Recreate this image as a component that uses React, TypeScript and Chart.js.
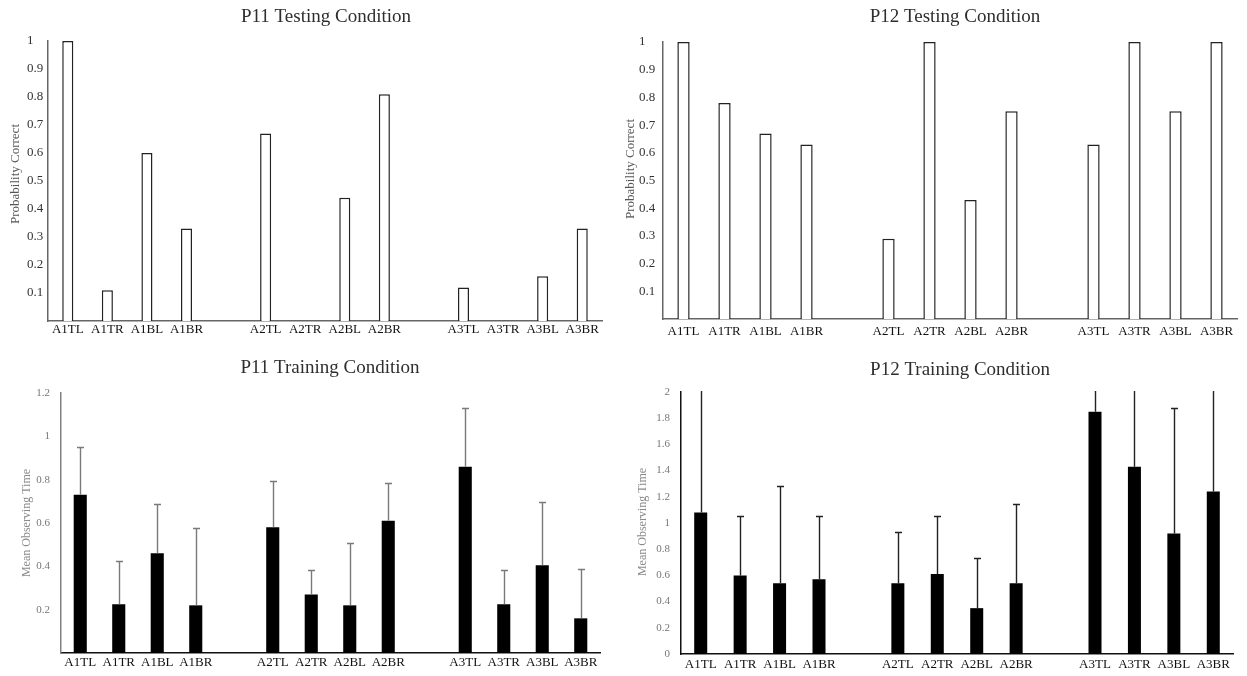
import React, { useEffect, useRef } from 'react';
import { Chart, registerables } from 'chart.js';

Chart.register(...registerables);

// Categories (blank slots separate the three groups)
const categories = ['A1TL', 'A1TR', 'A1BL', 'A1BR', '', 'A2TL', 'A2TR', 'A2BL', 'A2BR', '', 'A3TL', 'A3TR', 'A3BL', 'A3BR'];

// P11 / P12 testing: probability correct
const p11Testing = [1, 0.11, 0.6, 0.33, null, 0.67, 0, 0.44, 0.81, null, 0.12, 0, 0.16, 0.33];
const p12Testing = [1, 0.78, 0.67, 0.63, null, 0.29, 1, 0.43, 0.75, null, 0.63, 1, 0.75, 1];

// P11 / P12 training: mean observing time and upper error
const p11Training = [0.73, 0.225, 0.46, 0.22, null, 0.58, 0.27, 0.22, 0.61, null, 0.86, 0.225, 0.405, 0.16];
const p11TrainingErr = [0.22, 0.2, 0.23, 0.355, null, 0.215, 0.115, 0.29, 0.175, null, 0.27, 0.16, 0.29, 0.23];
const p12Training = [1.08, 0.6, 0.54, 0.57, null, 0.54, 0.61, 0.35, 0.54, null, 1.85, 1.43, 0.92, 1.24];
const p12TrainingErr = [1.2, 0.45, 0.74, 0.485, null, 0.39, 0.44, 0.38, 0.605, null, 0.6, 0.9, 0.955, 1.0];

const titles = ['P11 Testing Condition', 'P12 Testing Condition', 'P11 Training Condition', 'P12 Training Condition'];
const yTitles = ['Probability Correct', 'Probability Correct', 'Mean Observing Time', 'Mean Observing Time'];

const SERIF = '"Liberation Serif", "DejaVu Serif", serif';

type PanelCfg = {
  left: number; top: number; width: number; height: number;
  values: (number | null)[]; errors?: (number | null)[];
  title: string; titleX: number; titleY: number;
  yTitle: string; yTitleX: number; yTitleY: number; yTitleColor: string; yTitleSize: number;
  filled: boolean; barPct: number; max: number; step: number; showZero: boolean;
  pad: { left: number; right: number; top: number; bottom: number };
  yW: number; xH: number; xPad: number;
  yAlign: 'near' | 'far'; yPad: number; yTickColor: string; yTickSize: number;
  yBorder: string; xBorder: string; errColor: string;
};

const panels: PanelCfg[] = [
  {
    left: 0, top: 0, width: 615, height: 345, values: p11Testing,
    title: titles[0], titleX: 326, titleY: 17,
    yTitle: yTitles[0], yTitleX: 16, yTitleY: 174, yTitleColor: '#555', yTitleSize: 13,
    filled: false, barPct: 0.28, max: 1, step: 0.1, showZero: false,
    pad: { left: 27, right: 13, top: 41, bottom: 4 }, yW: 21, xH: 20, xPad: 1,
    yAlign: 'far', yPad: 0, yTickColor: '#333', yTickSize: 13,
    yBorder: '#666', xBorder: '#666', errColor: '#777',
  },
  {
    left: 620, top: 0, width: 627, height: 345, values: p12Testing,
    title: titles[1], titleX: 335, titleY: 17,
    yTitle: yTitles[1], yTitleX: 11, yTitleY: 169, yTitleColor: '#555', yTitleSize: 13,
    filled: false, barPct: 0.3, max: 1, step: 0.1, showZero: false,
    pad: { left: 19, right: 10, top: 42, bottom: 4 }, yW: 24, xH: 22, xPad: 5,
    yAlign: 'far', yPad: 0, yTickColor: '#333', yTickSize: 13,
    yBorder: '#666', xBorder: '#666', errColor: '#777',
  },
  {
    left: 0, top: 345, width: 615, height: 331, values: p11Training, errors: p11TrainingErr,
    title: titles[2], titleX: 330, titleY: 23,
    yTitle: yTitles[2], yTitleX: 27, yTitleY: 178, yTitleColor: '#8a8a8a', yTitleSize: 12,
    filled: true, barPct: 0.34, max: 1.2, step: 0.2, showZero: false,
    pad: { left: 20, right: 15, top: 48, bottom: 4 }, yW: 41, xH: 19, xPad: 2,
    yAlign: 'near', yPad: 11, yTickColor: '#777', yTickSize: 11,
    yBorder: '#808080', xBorder: '#111', errColor: '#7a7a7a',
  },
  {
    left: 620, top: 345, width: 627, height: 331, values: p12Training, errors: p12TrainingErr,
    title: titles[3], titleX: 340, titleY: 25,
    yTitle: yTitles[3], yTitleX: 23, yTitleY: 177, yTitleColor: '#8a8a8a', yTitleSize: 12,
    filled: true, barPct: 0.33, max: 2, step: 0.2, showZero: true,
    pad: { left: 20, right: 14, top: 47, bottom: 4 }, yW: 41, xH: 18, xPad: 3,
    yAlign: 'near', yPad: 11, yTickColor: '#777', yTickSize: 11,
    yBorder: '#111', xBorder: '#111', errColor: '#222',
  },
];

function Panel({ cfg }: { cfg: PanelCfg }) {
  const ref = useRef<HTMLCanvasElement>(null);
  useEffect(() => {
    if (!ref.current) return;
    const textPlugin = {
      id: 'panelText',
      afterDraw(chart: any) {
        const ctx = chart.ctx;
        ctx.save();
        ctx.fillStyle = '#2e2e2e';
        ctx.font = `19px ${SERIF}`;
        ctx.textAlign = 'center';
        ctx.textBaseline = 'middle';
        ctx.fillText(cfg.title, cfg.titleX, cfg.titleY);
        ctx.translate(cfg.yTitleX, cfg.yTitleY);
        ctx.rotate(-Math.PI / 2);
        ctx.font = `${cfg.yTitleSize}px ${SERIF}`;
        ctx.fillStyle = cfg.yTitleColor;
        ctx.fillText(cfg.yTitle, 0, 0);
        ctx.restore();
      },
    };
    const errorPlugin = {
      id: 'errorBars',
      afterDatasetsDraw(chart: any) {
        const errs = cfg.errors;
        if (!errs) return;
        const meta = chart.getDatasetMeta(0);
        const ys = chart.scales.y;
        const { ctx, chartArea } = chart;
        ctx.save();
        ctx.beginPath();
        ctx.rect(chartArea.left, chartArea.top - 1, chartArea.right - chartArea.left, chartArea.bottom - chartArea.top + 1);
        ctx.clip();
        ctx.strokeStyle = cfg.errColor;
        ctx.lineWidth = 1.4;
        errs.forEach((e, i) => {
          const v = cfg.values[i];
          if (e == null || v == null) return;
          const bar = meta.data[i];
          const x = Math.round(bar.x) + 0.5;
          const y0 = ys.getPixelForValue(v);
          const y1 = Math.round(ys.getPixelForValue(v + e)) + 0.5;
          ctx.beginPath();
          ctx.moveTo(x, y0);
          ctx.lineTo(x, y1);
          ctx.moveTo(x - 3.5, y1);
          ctx.lineTo(x + 3.5, y1);
          ctx.stroke();
        });
        ctx.restore();
      },
    };
    const chart = new Chart(ref.current, {
      type: 'bar',
      data: {
        labels: categories,
        datasets: [
          {
            data: cfg.values as any,
            backgroundColor: cfg.filled ? '#000' : '#fff',
            borderColor: cfg.filled ? '#000' : '#222',
            borderWidth: cfg.filled ? 0 : 1.5,
            barPercentage: cfg.barPct,
            categoryPercentage: 1,
          },
        ],
      },
      options: {
        responsive: false,
        animation: false,
        layout: { padding: cfg.pad },
        plugins: { legend: { display: false }, tooltip: { enabled: false }, title: { display: false } },
        scales: {
          x: {
            grid: { display: false, drawTicks: false },
            border: { display: true, color: cfg.xBorder, width: 1.5 },
            ticks: {
              autoSkip: false, maxRotation: 0, padding: cfg.xPad,
              font: { family: SERIF, size: 13 }, color: '#111',
            },
            afterFit: (s: any) => { s.height = cfg.xH; },
          },
          y: {
            min: 0, max: cfg.max,
            grid: { display: false, drawTicks: false },
            border: { display: true, color: cfg.yBorder, width: 1.5 },
            ticks: {
              stepSize: cfg.step, crossAlign: cfg.yAlign, padding: cfg.yPad,
              font: { family: SERIF, size: cfg.yTickSize }, color: cfg.yTickColor,
              callback: (v: any) => {
                const n = Number(v);
                if (n === 0 && !cfg.showZero) return '';
                return String(+n.toFixed(1));
              },
            },
            afterFit: (s: any) => { s.width = cfg.yW; },
          },
        },
      } as any,
      plugins: [errorPlugin, textPlugin],
    });
    return () => chart.destroy();
  }, []);
  return (
    <div style={{ position: 'absolute', left: cfg.left, top: cfg.top, width: cfg.width, height: cfg.height }}>
      <canvas ref={ref} width={cfg.width} height={cfg.height} style={{ width: cfg.width, height: cfg.height, display: 'block' }} />
    </div>
  );
}

export default function App() {
  return (
    <div style={{ position: 'absolute', left: 0, top: 0, width: 1247, height: 676, background: '#fff' }}>
      {panels.map((p, i) => (
        <Panel key={i} cfg={p} />
      ))}
    </div>
  );
}
